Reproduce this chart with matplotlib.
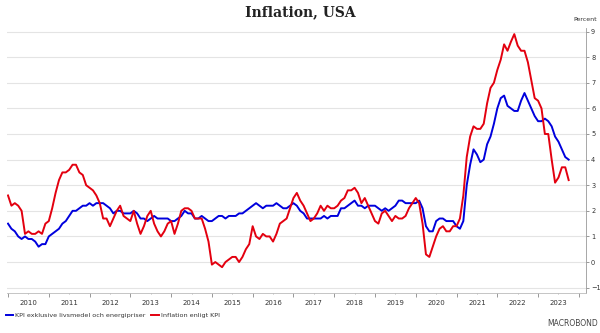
import matplotlib.pyplot as plt
import numpy as np
from matplotlib.lines import Line2D

# Monthly year-on-year change, Jan 2010 - Oct 2023 (percent)
kpi = [
    2.6, 2.2, 2.3, 2.2, 2.0, 1.1, 1.2, 1.1, 1.1, 1.2, 1.1, 1.5,   # 2010
    1.6, 2.1, 2.7, 3.2, 3.5, 3.5, 3.6, 3.8, 3.8, 3.5, 3.4, 3.0,   # 2011
    2.9, 2.8, 2.6, 2.3, 1.7, 1.7, 1.4, 1.7, 2.0, 2.2, 1.8, 1.7,   # 2012
    1.6, 2.0, 1.5, 1.1, 1.4, 1.8, 2.0, 1.5, 1.2, 1.0, 1.2, 1.5,   # 2013
    1.6, 1.1, 1.5, 2.0, 2.1, 2.1, 2.0, 1.7, 1.7, 1.7, 1.3, 0.8,   # 2014
    -0.1, 0.0, -0.1, -0.2, 0.0, 0.1, 0.2, 0.2, 0.0, 0.2, 0.5, 0.7,  # 2015
    1.4, 1.0, 0.9, 1.1, 1.0, 1.0, 0.8, 1.1, 1.5, 1.6, 1.7, 2.1,   # 2016
    2.5, 2.7, 2.4, 2.2, 1.9, 1.6, 1.7, 1.9, 2.2, 2.0, 2.2, 2.1,   # 2017
    2.1, 2.2, 2.4, 2.5, 2.8, 2.8, 2.9, 2.7, 2.3, 2.5, 2.2, 1.9,   # 2018
    1.6, 1.5, 1.9, 2.0, 1.8, 1.6, 1.8, 1.7, 1.7, 1.8, 2.1, 2.3,   # 2019
    2.5, 2.3, 1.5, 0.3, 0.2, 0.6, 1.0, 1.3, 1.4, 1.2, 1.2, 1.4,   # 2020
    1.4, 1.7, 2.6, 4.1, 4.9, 5.3, 5.2, 5.2, 5.4, 6.2, 6.8, 7.0,   # 2021
    7.5, 7.9, 8.5, 8.25, 8.6, 8.9, 8.45, 8.25, 8.25, 7.8, 7.1, 6.4,  # 2022
    6.3, 6.0, 5.0, 5.0, 4.0, 3.1, 3.3, 3.7, 3.7, 3.2,             # 2023
]

kpi_core = [
    1.5, 1.3, 1.2, 1.0, 0.9, 1.0, 0.9, 0.9, 0.8, 0.6, 0.7, 0.7,   # 2010
    1.0, 1.1, 1.2, 1.3, 1.5, 1.6, 1.8, 2.0, 2.0, 2.1, 2.2, 2.2,   # 2011
    2.3, 2.2, 2.3, 2.3, 2.3, 2.2, 2.1, 1.9, 2.0, 2.0, 1.9, 1.9,   # 2012
    1.9, 2.0, 1.9, 1.7, 1.7, 1.6, 1.7, 1.8, 1.7, 1.7, 1.7, 1.7,   # 2013
    1.6, 1.6, 1.7, 1.8, 2.0, 1.9, 1.9, 1.7, 1.7, 1.8, 1.7, 1.6,   # 2014
    1.6, 1.7, 1.8, 1.8, 1.7, 1.8, 1.8, 1.8, 1.9, 1.9, 2.0, 2.1,   # 2015
    2.2, 2.3, 2.2, 2.1, 2.2, 2.2, 2.2, 2.3, 2.2, 2.1, 2.1, 2.2,   # 2016
    2.3, 2.2, 2.0, 1.9, 1.7, 1.7, 1.7, 1.7, 1.7, 1.8, 1.7, 1.8,   # 2017
    1.8, 1.8, 2.1, 2.1, 2.2, 2.3, 2.4, 2.2, 2.2, 2.1, 2.2, 2.2,   # 2018
    2.2, 2.1, 2.0, 2.1, 2.0, 2.1, 2.2, 2.4, 2.4, 2.3, 2.3, 2.3,   # 2019
    2.3, 2.4, 2.1, 1.4, 1.2, 1.2, 1.6, 1.7, 1.7, 1.6, 1.6, 1.6,   # 2020
    1.4, 1.3, 1.6, 3.0, 3.8, 4.4, 4.2, 3.9, 4.0, 4.6, 4.9, 5.4,   # 2021
    6.0, 6.4, 6.5, 6.1, 6.0, 5.9, 5.9, 6.3, 6.6, 6.3, 6.0, 5.7,   # 2022
    5.5, 5.5, 5.6, 5.5, 5.3, 4.9, 4.7, 4.4, 4.1, 4.0,             # 2023
]

years = list(range(2010, 2024))
labels = ['KPI exklusive livsmedel och energipriser', 'Inflation enligt KPI']

t = 2010 + np.arange(len(kpi)) / 12.0

fig = plt.figure(figsize=(6, 3.33), dpi=100)
ax = fig.add_axes([0.012, 0.12, 0.965, 0.796])

ax.plot(t, kpi_core, color='#0000dd', lw=1.4, solid_joinstyle='round')
ax.plot(t, kpi, color='#e3000f', lw=1.4, solid_joinstyle='round')

ax.set_xlim(2009.98, 2024.18)
ax.set_ylim(-1.21, 9.14)

ax.set_yticks(range(-1, 10))
ax.yaxis.tick_right()
ax.yaxis.grid(True, color='#e4e4e4', lw=0.8)
ax.set_axisbelow(True)
ax.tick_params(axis='y', length=2.5, width=0.6, color='#888888', labelsize=4.8,
               labelcolor='#333333', pad=1)

# year boundaries get tick marks, labels sit in the middle of each year
ax.set_xticks(range(2010, 2025))
ax.set_xticklabels([])
ax.set_xticks([y + 0.5 for y in years], minor=True)
ax.set_xticklabels([str(y) for y in years], minor=True)
ax.tick_params(axis='x', which='major', length=3, width=0.6, color='#888888')
ax.tick_params(axis='x', which='minor', length=1, width=0.6, color='#aaaaaa',
               labelsize=5, labelcolor='#333333', pad=4)

for s in ['top', 'left']:
    ax.spines[s].set_visible(False)
ax.spines['right'].set_color('#999999')
ax.spines['right'].set_linewidth(0.6)
ax.spines['bottom'].set_color('#bbbbbb')
ax.spines['bottom'].set_linewidth(0.6)

fig.text(0.5, 0.963, 'Inflation, USA', ha='center', va='center',
         family='DejaVu Serif', weight='bold', fontsize=10, color='#222222')
fig.text(0.995, 0.942, 'Percent', ha='right', va='center', fontsize=4.5,
         color='#333333')

handles = [Line2D([], [], color='#0000dd', lw=1.4),
           Line2D([], [], color='#e3000f', lw=1.4)]
fig.legend(handles, labels, loc='center left', bbox_to_anchor=(0.0, 0.052),
           ncol=2, frameon=False, fontsize=4.6, handlelength=1.2,
           handletextpad=0.3, columnspacing=0.8, labelcolor='#333333')

fig.text(0.997, 0.03, 'MACROBOND', ha='right', va='center', fontsize=5.5,
         color='#444444')

fig.savefig('out.png', dpi=100)
